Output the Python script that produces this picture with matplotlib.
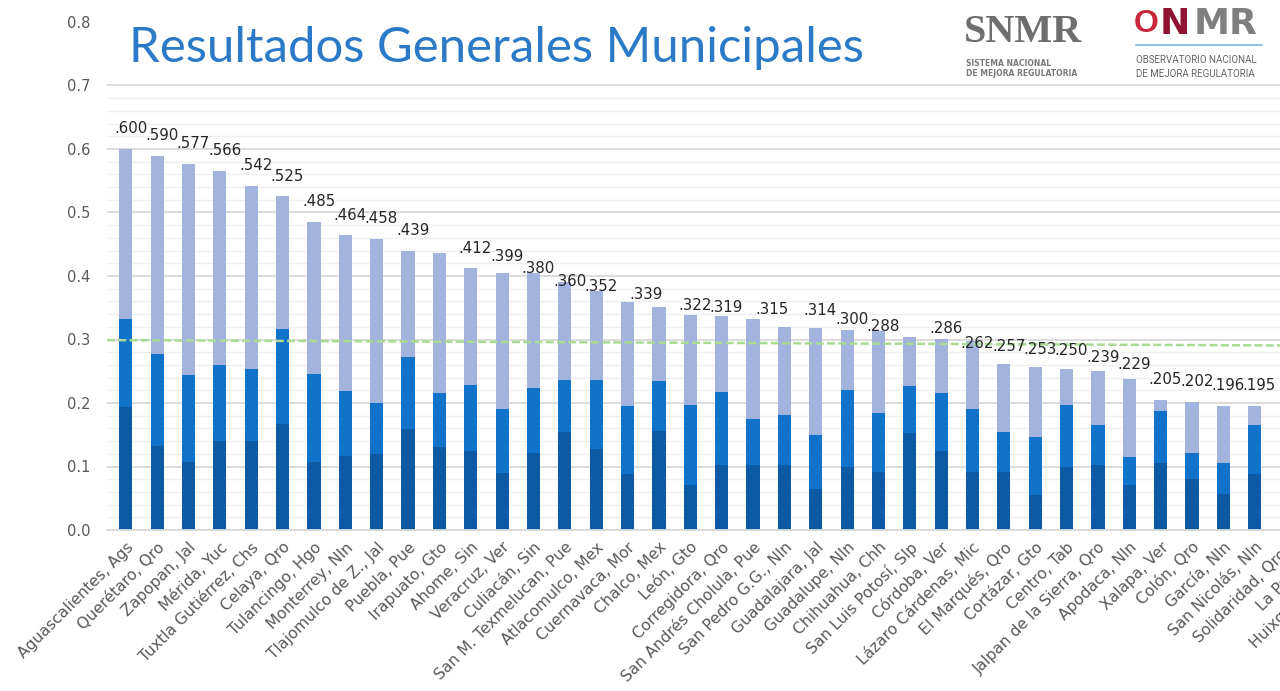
import numpy as np
import matplotlib
matplotlib.use("Agg")
import matplotlib.pyplot as plt
from matplotlib.patches import Rectangle
from matplotlib.lines import Line2D
from matplotlib.ticker import MultipleLocator, FormatStrFormatter

# Municipios (los tres últimos quedan cortados en el borde derecho)
municipios = [
    "Aguascalientes, Ags", "Querétaro, Qro", "Zapopan, Jal", "Mérida, Yuc",
    "Tuxtla Gutiérrez, Chs", "Celaya, Qro", "Tulancingo, Hgo", "Monterrey, Nln",
    "Tlajomulco de Z., Jal", "Puebla, Pue", "Irapuato, Gto", "Ahome, Sin",
    "Veracruz, Ver", "Culiacán, Sin", "San M. Texmelucan, Pue", "Atlacomulco, Mex",
    "Cuernavaca, Mor", "Chalco, Mex", "León, Gto", "Corregidora, Qro",
    "San Andrés Cholula, Pue", "San Pedro G.G., Nln", "Guadalajara, Jal",
    "Guadalupe, Nln", "Chihuahua, Chh", "San Luis Potosí, Slp", "Córdoba, Ver",
    "Lázaro Cárdenas, Mic", "El Marqués, Qro", "Cortázar, Gto", "Centro, Tab",
    "Jalpan de la Sierra, Qro", "Apodaca, Nln", "Xalapa, Ver", "Colón, Qro",
    "García, Nln", "San Nicolás, Nln", "Solidaridad, Qroo", "La Paz, BCS",
    "Huixquilucan, Mex",
]

# Alturas acumuladas (barras visibles)
tope_oscuro = [0.194, 0.133, 0.107, 0.140, 0.140, 0.167, 0.107, 0.116, 0.120, 0.159,
               0.130, 0.125, 0.090, 0.122, 0.154, 0.128, 0.088, 0.156, 0.071, 0.102,
               0.103, 0.102, 0.065, 0.100, 0.092, 0.153, 0.124, 0.091, 0.092, 0.055,
               0.100, 0.102, 0.071, 0.106, 0.081, 0.057, 0.088]
tope_medio = [0.332, 0.277, 0.244, 0.260, 0.254, 0.316, 0.246, 0.219, 0.200, 0.273,
              0.215, 0.229, 0.190, 0.223, 0.236, 0.237, 0.195, 0.234, 0.197, 0.218,
              0.175, 0.181, 0.149, 0.220, 0.185, 0.227, 0.216, 0.190, 0.155, 0.146,
              0.197, 0.165, 0.115, 0.188, 0.121, 0.106, 0.166]
total = [0.600, 0.589, 0.576, 0.565, 0.542, 0.526, 0.485, 0.465, 0.458, 0.439,
         0.437, 0.412, 0.405, 0.405, 0.391, 0.377, 0.359, 0.351, 0.339, 0.337,
         0.332, 0.320, 0.318, 0.315, 0.314, 0.304, 0.300, 0.297, 0.262, 0.256,
         0.253, 0.250, 0.238, 0.205, 0.202, 0.196, 0.195]

# Etiquetas de valor tal como aparecen (None = sin etiqueta)
etiquetas = [0.600, 0.590, 0.577, 0.566, 0.542, 0.525, 0.485, 0.464, 0.458, 0.439,
             None, 0.412, 0.399, 0.380, 0.360, 0.352, 0.339, None, 0.322, 0.319,
             0.315, None, 0.314, 0.300, 0.288, None, 0.286, 0.262, 0.257, 0.253,
             0.250, 0.239, 0.229, 0.205, 0.202, 0.196, 0.195]

# Línea de promedio (inicio, fin)
linea_promedio = [0.299, 0.290]

c_oscuro = "#0B5AA3"
c_medio = "#1172C9"
c_claro = "#A2B4DE"

W, H = 1280, 691
fig = plt.figure(figsize=(W / 100, H / 100), dpi=100, facecolor="white")

def fx(px):
    return px / W

def fy(py):
    return 1 - py / H

# el eje se sale por la derecha, igual que en la captura
x0, x1 = -0.6, 39.6
paso = 31.36
ax = fig.add_axes([fx(107), fy(530), (x1 - x0) * paso / W, 508 / H])

tope_oscuro = np.array(tope_oscuro)
tope_medio = np.array(tope_medio)
total = np.array(total)
x = np.arange(len(total))
ancho = 0.42

ax.bar(x, tope_oscuro, width=ancho, color=c_oscuro, zorder=2)
ax.bar(x, tope_medio - tope_oscuro, bottom=tope_oscuro, width=ancho, color=c_medio, zorder=2)
ax.bar(x, total - tope_medio, bottom=tope_medio, width=ancho, color=c_claro, zorder=2)

ax.plot([x0, x1], linea_promedio, color="#A9DC92", lw=1.8, dashes=(3.2, 1.3), zorder=3)

ajuste = {16: 0.45, 20: 0.45}
for i, v in enumerate(etiquetas):
    if v is None:
        continue
    ax.text(i + 0.15 + ajuste.get(i, 0), v + 0.032, f"{v:.3f}".lstrip("0"),
            ha="center", va="center", fontsize=10.8, color="#262626", zorder=4)

ax.set_xlim(x0, x1)
ax.set_ylim(0, 0.8)
ax.yaxis.set_major_locator(MultipleLocator(0.1))
ax.yaxis.set_minor_locator(MultipleLocator(0.02))
ax.yaxis.set_major_formatter(FormatStrFormatter("%.1f"))
ax.grid(axis="y", which="major", color="#D9D9D9", lw=1.3)
ax.grid(axis="y", which="minor", color="#EFEFEF", lw=1.0)
ax.set_axisbelow(True)

ax.set_xticks(np.arange(len(municipios)))
ax.set_xticklabels(municipios, rotation=45, ha="right", rotation_mode="anchor")
ax.tick_params(axis="x", length=0, pad=7, labelsize=11.2, labelcolor="#595959")
ax.tick_params(axis="y", which="both", length=0, pad=12, labelsize=10.5, labelcolor="#595959")

for s in ["top", "right", "left"]:
    ax.spines[s].set_visible(False)
ax.spines["bottom"].set_color("#D9D9D9")
ax.spines["bottom"].set_linewidth(1.3)

# tapa la cuadrícula detrás del título
fig.patches.append(Rectangle((fx(105), fy(80)), 1, 80 / H, transform=fig.transFigure,
                             facecolor="white", edgecolor="none", zorder=1))

fig.text(fx(129), fy(48), "Resultados Generales Municipales", fontsize=35.4,
         family="Lato", color="#2A7AC8", va="center", ha="left", zorder=3)

# logotipos como texto
fig.text(fx(964), fy(33), "SNMR", fontsize=29, fontweight="bold", family="Liberation Serif",
         color="#6E6E6E", va="center", ha="left", zorder=3)
fig.text(fx(966), fy(63), "SISTEMA NACIONAL", fontsize=5.5, fontweight="bold",
         color="#7A7A7A", va="center", ha="left", zorder=3)
fig.text(fx(966), fy(73), "DE MEJORA REGULATORIA", fontsize=5.5, fontweight="bold",
         color="#7A7A7A", va="center", ha="left", zorder=3)

fig.text(fx(1134), fy(24), "O", fontsize=23, fontweight="bold", family="Liberation Sans",
         color="#C8283A", va="center", ha="left", zorder=3)
fig.text(fx(1160), fy(24), "N", fontsize=26, fontweight="bold", color="#8E1330",
         va="center", ha="left", zorder=3)
fig.text(fx(1194), fy(24), "MR", fontsize=26, fontweight="bold", color="#7F7F7F",
         va="center", ha="left", zorder=3)
fig.add_artist(Line2D([fx(1136), fx(1262)], [fy(45), fy(45)], color="#7DB8E8", lw=1.2,
                      transform=fig.transFigure, zorder=3))
fig.text(fx(1136), fy(60), "OBSERVATORIO NACIONAL", fontsize=7, family="Roboto",
         color="#666666", va="center", ha="left", zorder=3)
fig.text(fx(1136), fy(74), "DE MEJORA REGULATORIA", fontsize=7, family="Roboto",
         color="#666666", va="center", ha="left", zorder=3)

fig.savefig("out.png", dpi=100, facecolor="white")
